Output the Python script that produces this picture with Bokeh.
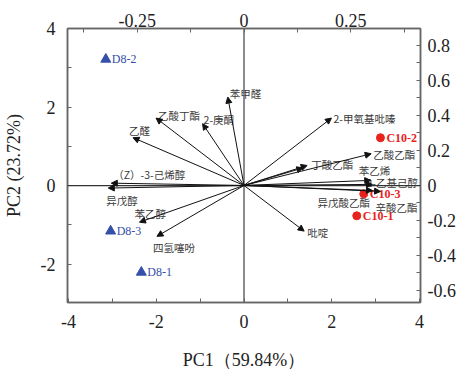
from bokeh.plotting import figure
from bokeh.models import (Range1d, LinearAxis, FixedTicker, CustomJSTickFormatter,
                          Span, Arrow, NormalHead, ColumnDataSource)
from bokeh.core.properties import value
from bokeh.embed import file_html
from bokeh.resources import INLINE

# ---- sample scores (PC1, PC2) ----
sample_names = ["D8-1", "D8-2", "D8-3", "C10-1", "C10-2", "C10-3"]
sample_pc1 = [-2.34, -3.15, -3.04, 2.57, 3.11, 2.73]
sample_pc2 = [-2.21, 3.22, -1.16, -0.77, 1.22, -0.21]
sample_group = ["D8", "D8", "D8", "C10", "C10", "C10"]

# ---- variable loadings ----
compounds = ["苯甲醛", "乙酸丁酯", "2-庚酮", "乙醛", "（Z）-3-己烯醇", "异戊醇", "苯乙醇",
             "四氢噻吩", "吡啶", "2-甲氧基吡嗪", "乙酸乙酯", "丁酸乙酯", "", "苯乙烯",
             "2-乙基己醇", "异戊酸乙酯", "辛酸乙酯"]
load_pc1 = [-0.038, -0.206, -0.097, -0.260, -0.311, -0.318, -0.245,
            -0.204, 0.141, 0.205, 0.298, 0.148, 0.138, 0.297,
            0.301, 0.301, 0.320]
load_pc2 = [0.505, 0.385, 0.353, 0.273, 0.013, -0.015, -0.210,
            -0.291, -0.261, 0.385, 0.181, 0.114, 0.100, 0.029,
            0.006, -0.029, -0.034]

# ---- tick labels ----
pc1_ticks = [-4, -2, 0, 2, 4]
pc2_ticks = [-2, 0, 2, 4]
load1_ticks = [-0.25, 0, 0.25]
load2_ticks = [-0.6, -0.4, -0.2, 0, 0.2, 0.4, 0.6, 0.8]

# label offsets in pixels (styling)
lab_dx = [2, 2, 1, -4, 2, -2, -5, -4, 3, 2, 2, 4, 0, -12, -6, -55, -5]
lab_dy = [-4, -3, -4, -7, -9, 12, -9, 11, 1, 0, 1, -1, 0, -10, -2, 12, 16]

p = figure(width=465, height=377, output_backend="svg", toolbar_location=None,
           x_range=Range1d(-4.023, 4.023), y_range=Range1d(-2.98, 4.005),
           min_border_left=66, min_border_right=45, min_border_top=28, min_border_bottom=75)
p.extra_x_ranges = {"lx": Range1d(-0.4136, 0.4136)}
p.extra_y_ranges = {"ly": Range1d(-0.669, 0.897)}
p.xgrid.visible = False
p.ygrid.visible = False
p.outline_line_color = "#666666"
p.outline_line_width = 1.5
p.background_fill_color = "white"
p.border_fill_color = "white"

p.add_layout(LinearAxis(x_range_name="lx"), "above")
p.add_layout(LinearAxis(y_range_name="ly"), "right")

SERIF = "Liberation Serif"

def style(ax, ticks, minor, fmt):
    ax.ticker = FixedTicker(ticks=ticks, minor_ticks=minor)
    ax.formatter = CustomJSTickFormatter(code="return Math.abs(tick) < 1e-9 ? '0' : tick.toFixed(%d);" % fmt)
    ax.axis_line_color = "#666666"
    ax.axis_line_width = 1.5
    ax.major_tick_line_color = "#666666"
    ax.minor_tick_line_color = "#666666"
    ax.major_tick_in = 4
    ax.major_tick_out = 0
    ax.minor_tick_in = 4
    ax.minor_tick_out = 0
    ax.major_label_text_font = SERIF
    ax.major_label_text_font_size = "18px"
    ax.major_label_text_color = "#222222"
    ax.axis_label_text_font = SERIF
    ax.axis_label_text_font_size = "18px"
    ax.axis_label_text_font_style = "normal"
    ax.axis_label_text_color = "#222222"

bottom = p.below[0]
left = p.left[0]
top = p.above[0]
right = p.right[0]
style(bottom, pc1_ticks, [-3, -1, 1, 3], 0)
style(left, pc2_ticks, [-1, 1, 3], 0)
style(top, load1_ticks, [-0.375, -0.125, 0.125, 0.375], 2)
style(right, load2_ticks, [-0.5, -0.3, -0.1, 0.1, 0.3, 0.5, 0.7], 1)
bottom.axis_label = "PC1（59.84%）"
left.axis_label = "PC2 (23.72%)"
bottom.major_label_standoff = 12
bottom.axis_label_standoff = 19
left.major_label_standoff = 12
left.axis_label_standoff = 14
top.major_label_standoff = 2
right.major_label_standoff = 7

p.add_layout(Span(location=0, dimension="height", line_color="#666666", line_width=1.5))
p.add_layout(Span(location=0, dimension="width", line_color="#333333", line_width=1.2))

# arrows
asrc = ColumnDataSource(dict(x0=[0] * len(compounds), y0=[0] * len(compounds),
                             x1=load_pc1, y1=load_pc2, name=compounds, dx=lab_dx, dy=lab_dy))
p.add_layout(Arrow(end=NormalHead(size=6, fill_color="#111111", line_color="#111111", line_width=1),
                   x_start="x0", y_start="y0", x_end="x1", y_end="y1", source=asrc,
                   line_color="#111111", line_width=1, x_range_name="lx", y_range_name="ly"))
p.text(x="x1", y="y1", text="name", source=asrc, x_range_name="lx", y_range_name="ly",
       x_offset="dx", y_offset="dy", text_align="left", text_baseline="middle",
       text_font=value("Noto Sans CJK SC"), text_font_size="10.5px", text_color="#3a3a3a")

# samples
d8 = ColumnDataSource(dict(x=sample_pc1[:3], y=sample_pc2[:3], name=sample_names[:3]))
c10 = ColumnDataSource(dict(x=sample_pc1[3:], y=sample_pc2[3:], name=sample_names[3:]))
blue = "#3550a8"
red = "#e8231e"
p.scatter("x", "y", source=d8, marker="triangle", size=10, fill_color=blue, line_color=blue)
p.scatter("x", "y", source=c10, marker="circle", size=8, fill_color=red, line_color=red)
p.text("x", "y", text="name", source=d8, x_offset=6, text_align="left", text_baseline="middle",
       text_font=value("Liberation Serif"), text_font_size="12px", text_color=blue)
p.text("x", "y", text="name", source=c10, x_offset=6, text_align="left", text_baseline="middle",
       text_font=value("Liberation Serif"), text_font_size="12px", text_color=red,
       text_font_style="bold")

open("out.html", "w").write(file_html(p, INLINE))
